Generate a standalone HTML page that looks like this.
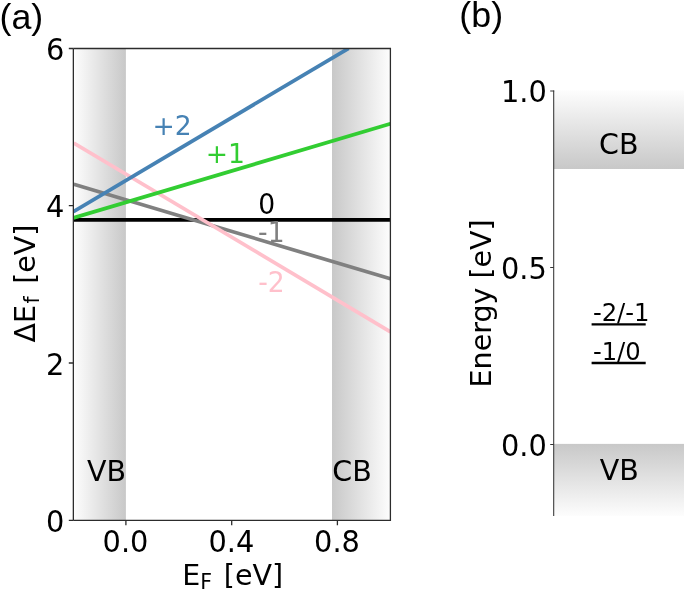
<!DOCTYPE html>
<html><head><meta charset="utf-8"><title>Formation energy diagram</title>
<style>
html,body{margin:0;padding:0;background:#fff;}
body{width:685px;height:592px;overflow:hidden;}
svg{display:block;}
text{font-family:"DejaVu Sans","Liberation Sans",sans-serif;fill:#000;}
.t{font-size:28.5px;}
.l{font-size:28.5px;}
.p{font-family:"Liberation Sans",sans-serif;font-size:35.8px;}
.s{font-size:24.3px;}
.m{font-size:26.3px;}
</style></head>
<body>
<svg width="685" height="592" viewBox="0 0 685 592">
<defs>
<linearGradient id="gvb" x1="0" y1="0" x2="1" y2="0"><stop offset="0" stop-color="#fdfdfd"/><stop offset="1" stop-color="#c8c8c8"/></linearGradient>
<linearGradient id="gcb" x1="0" y1="0" x2="1" y2="0"><stop offset="0" stop-color="#c8c8c8"/><stop offset="1" stop-color="#fdfdfd"/></linearGradient>
<linearGradient id="gcb2" x1="0" y1="0" x2="0" y2="1"><stop offset="0" stop-color="#fdfdfd"/><stop offset="1" stop-color="#c8c8c8"/></linearGradient>
<linearGradient id="gvb2" x1="0" y1="0" x2="0" y2="1"><stop offset="0" stop-color="#c8c8c8"/><stop offset="1" stop-color="#fdfdfd"/></linearGradient>
<clipPath id="ca"><rect x="73.4" y="48.5" width="317" height="471.9"/></clipPath>
</defs>
<rect width="685" height="592" fill="#fff"/>

<!-- panel a -->
<rect x="74" y="48.5" width="51.9" height="471.9" fill="url(#gvb)"/>
<rect x="332" y="48.5" width="58.4" height="471.9" fill="url(#gcb)"/>
<g clip-path="url(#ca)" fill="none" stroke-width="3.7">
<line x1="73.4" y1="219.8" x2="390.4" y2="219.8" stroke="#000"/>
<line x1="73.8" y1="184.3" x2="390.4" y2="278.8" stroke="#808080"/>
<line x1="73.8" y1="143.0" x2="390.4" y2="331.8" stroke="#ffc0cb"/>
<line x1="73.4" y1="217.9" x2="390.4" y2="123.8" stroke="#32cd32"/>
<line x1="73.4" y1="211.6" x2="348.6" y2="48.3" stroke="#4682b4"/>
</g>
<g stroke="#2c2c2c" stroke-width="1.3" fill="none">
<path d="M73.35 48.5V520.4"/>
<path d="M73.4 48.5H390.4V520.4H73.4"/>
<path d="M68.8 48.5H73.4M68.8 205.7H73.4M68.8 363H73.4M68.8 520.4H73.4"/>
<path d="M125.9 520.4V525.3M231.7 520.4V525.3M337.4 520.4V525.3"/>
</g>
<text class="p" transform="translate(-0.5 29.3)">(a)</text>
<text class="t" transform="translate(64.4 59.8) scale(1.012 1.05)" text-anchor="end">6</text>
<text class="t" transform="translate(64.4 217.20000000000002) scale(1.012 1.05)" text-anchor="end">4</text>
<text class="t" transform="translate(64.4 374.8) scale(1.012 1.05)" text-anchor="end">2</text>
<text class="t" transform="translate(64.4 531.6999999999999) scale(1.012 1.05)" text-anchor="end">0</text>
<text class="t" transform="translate(125.5 551.6) scale(1.012 1.05)" text-anchor="middle">0.0</text>
<text class="t" transform="translate(231.4 551.6) scale(1.012 1.05)" text-anchor="middle">0.4</text>
<text class="t" transform="translate(337.0 551.6) scale(1.012 1.05)" text-anchor="middle">0.8</text>
<text class="l" x="182.3" y="584.9">E<tspan font-size="20.5" dy="4.4">F</tspan><tspan dy="-4.4" dx="2.6"> [eV]</tspan></text>
<text class="l" transform="translate(34.6 342.4) rotate(-90)">ΔE<tspan font-size="20.5" dy="4.8" dx="1.5">f</tspan><tspan dy="-4.8" dx="3.3"> [eV]</tspan></text>
<text class="t" transform="translate(87 480.8)">VB</text>
<text class="t" transform="translate(332.3 480.8)">CB</text>
<text class="m" transform="translate(152.5 135) scale(1.012 1.01)" style="fill:#4682b4">+2</text>
<text class="m" transform="translate(205.7 162.8) scale(1.012 1.01)" style="fill:#32cd32">+1</text>
<text class="m" transform="translate(258.3 214.3) scale(1.012 1.05)">0</text>
<text class="m" transform="translate(258.1 241.5) scale(1.012 1.05)" style="fill:#808080">-1</text>
<text class="m" transform="translate(258.2 292.3) scale(1.012 1.05)" style="fill:#ffc0cb">-2</text>

<!-- panel b -->
<rect x="554" y="90.3" width="130" height="78.7" fill="url(#gcb2)"/>
<rect x="554" y="443.9" width="130" height="72.2" fill="url(#gvb2)"/>
<g stroke="#333" stroke-width="1.05" fill="none">
<path d="M553.7 90.5V516.1"/>
<path d="M550.2 91H554.2M550.2 267.4H553.7M550.2 444.5H553.7"/>
</g>
<g stroke="#000" stroke-width="2.3" fill="none">
<path d="M591.6 324.4H645.7M591.6 363H645.7"/>
</g>
<text class="p" transform="translate(459.3 27.4)">(b)</text>
<text class="t" transform="translate(546.8 102.1) scale(1.012 1.05)" text-anchor="end">1.0</text>
<text class="t" transform="translate(546.8 278.7) scale(1.012 1.05)" text-anchor="end">0.5</text>
<text class="t" transform="translate(546.8 455.8) scale(1.012 1.05)" text-anchor="end">0.0</text>
<text class="l" transform="translate(490.6 387.4) rotate(-90)">Energy [eV]</text>
<text class="t" transform="translate(599 154.4)">CB</text>
<text class="t" transform="translate(599.8 480)">VB</text>
<text class="s" transform="translate(592.9 321) scale(1.0 1.03)">-2/-1</text>
<text class="s" transform="translate(592.9 359.6) scale(1.0 1.015)">-1/0</text>
</svg>
</body></html>
